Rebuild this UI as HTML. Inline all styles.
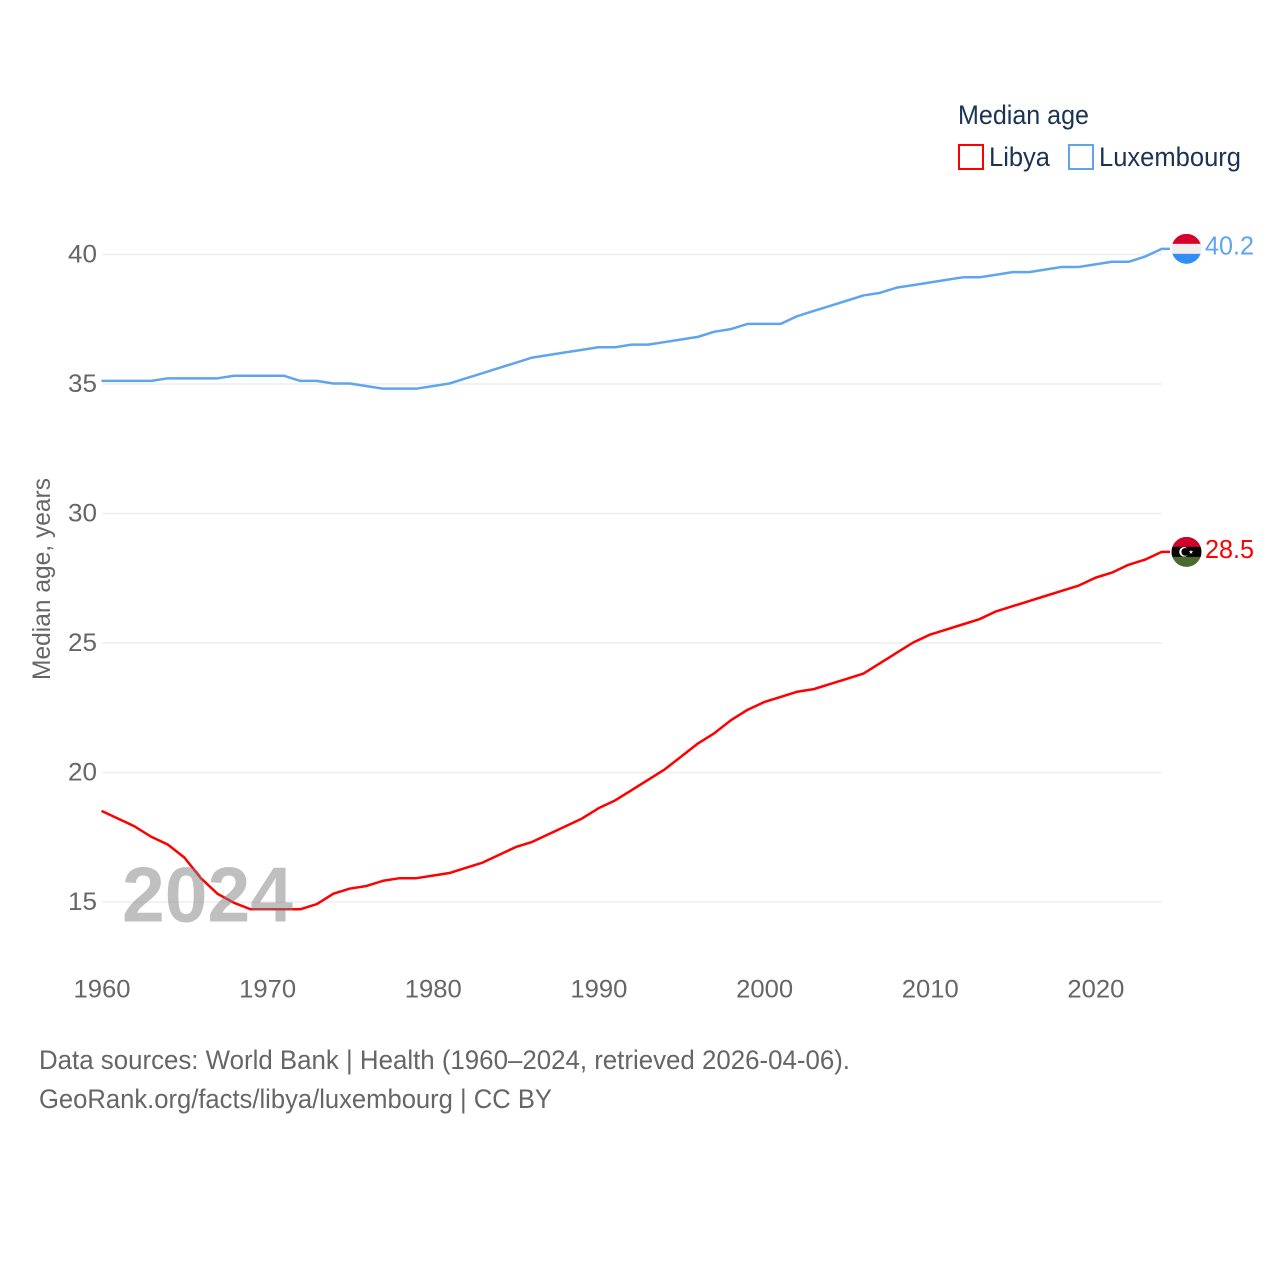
<!DOCTYPE html>
<html>
<head>
<meta charset="utf-8">
<title>Median age: Libya and Luxembourg</title>
<style>
html,body{margin:0;padding:0;background:#fff;}
svg{display:block;}
text{font-family:"Liberation Sans",sans-serif;}
</style>
</head>
<body>
<svg id="chart" xmlns="http://www.w3.org/2000/svg" width="1280" height="1280" viewBox="0 0 1280 1280">
  <rect width="1280" height="1280" fill="#fff"/>
  <g id="grid"></g>
  <g id="yticks"></g>
  <g id="xticks"></g>
  <text transform="translate(50,680) rotate(-90)" font-size="25" fill="#666" textLength="202" lengthAdjust="spacingAndGlyphs">Median age, years</text>
  <g id="series"></g>
  <g id="ends"></g>
  <text x="122" y="921.5" font-size="78" font-weight="bold" fill="rgba(128,128,128,0.5)" textLength="171" lengthAdjust="spacingAndGlyphs">2024</text>

  <g>
    <text x="958" y="124" font-size="27" fill="#1a3353" textLength="131" lengthAdjust="spacingAndGlyphs">Median age</text>
    <g>
      <rect x="959" y="145" width="24" height="24" fill="#fff" stroke="#ff0000" stroke-width="2"/>
      <text x="989" y="166" font-size="27" fill="#1a3353" textLength="61" lengthAdjust="spacingAndGlyphs">Libya</text>
    </g>
    <g>
      <rect x="1069" y="145" width="24" height="24" fill="#fff" stroke="#5fa5ee" stroke-width="2"/>
      <text x="1099" y="166" font-size="27" fill="#1a3353" textLength="142" lengthAdjust="spacingAndGlyphs">Luxembourg</text>
    </g>
  </g>

  <text x="39" y="1069" font-size="27" fill="#666" textLength="811" lengthAdjust="spacingAndGlyphs">Data sources: World Bank | Health (1960–2024, retrieved 2026-04-06).</text>
  <text x="39" y="1108" font-size="27" fill="#666" textLength="513" lengthAdjust="spacingAndGlyphs">GeoRank.org/facts/libya/luxembourg | CC BY</text>
</svg>
<script>
const startYear = 1960;
const xTickLabels = [1960, 1970, 1980, 1990, 2000, 2010, 2020];
const yTickLabels = [15, 20, 25, 30, 35, 40];
const libyaValues = [18.5,18.2,17.9,17.5,17.2,16.7,15.9,15.3,14.95,14.7,14.7,14.7,14.7,14.9,15.3,15.5,15.6,15.8,15.9,15.9,16.0,16.1,16.3,16.5,16.8,17.1,17.3,17.6,17.9,18.2,18.6,18.9,19.3,19.7,20.1,20.6,21.1,21.5,22.0,22.4,22.7,22.9,23.1,23.2,23.4,23.6,23.8,24.2,24.6,25.0,25.3,25.5,25.7,25.9,26.2,26.4,26.6,26.8,27.0,27.2,27.5,27.7,28.0,28.2,28.5];
const luxembourgValues = [35.1,35.1,35.1,35.1,35.2,35.2,35.2,35.2,35.3,35.3,35.3,35.3,35.1,35.1,35.0,35.0,34.9,34.8,34.8,34.8,34.9,35.0,35.2,35.4,35.6,35.8,36.0,36.1,36.2,36.3,36.4,36.4,36.5,36.5,36.6,36.7,36.8,37.0,37.1,37.3,37.3,37.3,37.6,37.8,38.0,38.2,38.4,38.5,38.7,38.8,38.9,39.0,39.1,39.1,39.2,39.3,39.3,39.4,39.5,39.5,39.6,39.7,39.7,39.9,40.2];

const NS = 'http://www.w3.org/2000/svg';
function xScale(year) { return 102 + (year - 1960) * 16.565; }
function yScale(v) { return 902 - (v - 15) * 25.9; }
function mk(tag, attrs, parent) {
  const el = document.createElementNS(NS, tag);
  for (const k in attrs) el.setAttribute(k, attrs[k]);
  parent.appendChild(el);
  return el;
}
const grid = document.getElementById('grid');
const yticks = document.getElementById('yticks');
const xticks = document.getElementById('xticks');
const series = document.getElementById('series');
const ends = document.getElementById('ends');

yTickLabels.forEach(function (v) {
  const line = mk('line', {x1: 102, x2: 1162, y1: yScale(v), y2: yScale(v), stroke: '#eeeeee', 'stroke-width': 1.5}, grid);
  
  
  const t = mk('text', {x: 97, y: yScale(v) + 8, 'font-size': 25, fill: '#666', 'text-anchor': 'end', textLength: 29, lengthAdjust: 'spacingAndGlyphs'}, yticks);
  t.textContent = v;
  
  
});

xTickLabels.forEach(function (y) {
  const t = mk('text', {x: xScale(y), y: 997.5, 'font-size': 25, fill: '#666', 'text-anchor': 'middle', textLength: 57, lengthAdjust: 'spacingAndGlyphs'}, xticks);
  t.textContent = y;
  
  
});

function drawLine(values, color) {
  const pts = values.map(function (v, i) { return (xScale(startYear + i) - 0.5).toFixed(2) + ',' + (yScale(v) - 0.5).toFixed(2); });
  const lastY = (yScale(values[values.length - 1]) - 0.5).toFixed(2);
  pts.push('1170,' + lastY);
  const p = mk('polyline', {points: pts.join(' '), fill: 'none', stroke: color, 'stroke-width': 2.5, 'stroke-linejoin': 'round'}, series);
  return p;
}
const libyaLine = drawLine(libyaValues, '#ff0000');


const luxLine = drawLine(luxembourgValues, '#5fa5ee');



function flagGroup(values, clipId, bands) {
  const cy = yScale(values[values.length - 1]) - 0.5;
  const g = mk('g', {transform: 'translate(1186.5,' + cy.toFixed(2) + ')'}, ends);
  const defs = mk('defs', {}, g);
  const cp = mk('clipPath', {id: clipId}, defs);
  mk('circle', {r: 15, cx: 0, cy: 0}, cp);
  const b = mk('g', {'clip-path': 'url(#' + clipId + ')'}, g);
  bands.forEach(function (c, i) {
    mk('rect', {x: -15, y: -15 + i * 10, width: 30, height: 10.2, fill: c}, b);
  });
  return {g: g, cy: cy};
}
const lux = flagGroup(luxembourgValues, 'clip-lux', ['#d6002a', '#eeeeee', '#2f8df5']);


const lib = flagGroup(libyaValues, 'clip-lib', ['#d0002a', '#000000', '#4a6b30']);


mk('circle', {cx: -2.5, cy: 0, r: 4.8, fill: '#fff'}, lib.g);
mk('circle', {cx: -1.2, cy: 0, r: 3.9, fill: '#000'}, lib.g);
mk('polygon', {points: '4.5,-2.2 5,-0.6 6.8,-0.6 5.4,0.4 5.9,2 4.5,1.1 3.1,2 3.6,0.4 2.2,-0.6 4,-0.6', fill: '#fff'}, lib.g);

const luxValueLabel = mk('text', {x: 1205, y: lux.cy + 5.5, 'font-size': 26, fill: '#5fa5ee', textLength: 49, lengthAdjust: 'spacingAndGlyphs'}, ends);
luxValueLabel.textContent = luxembourgValues[luxembourgValues.length - 1].toFixed(1);


const libValueLabel = mk('text', {x: 1205, y: lib.cy + 6, 'font-size': 26, fill: '#ff0000', textLength: 49, lengthAdjust: 'spacingAndGlyphs'}, ends);
libValueLabel.textContent = libyaValues[libyaValues.length - 1].toFixed(1);


</script>
</body>
</html>
